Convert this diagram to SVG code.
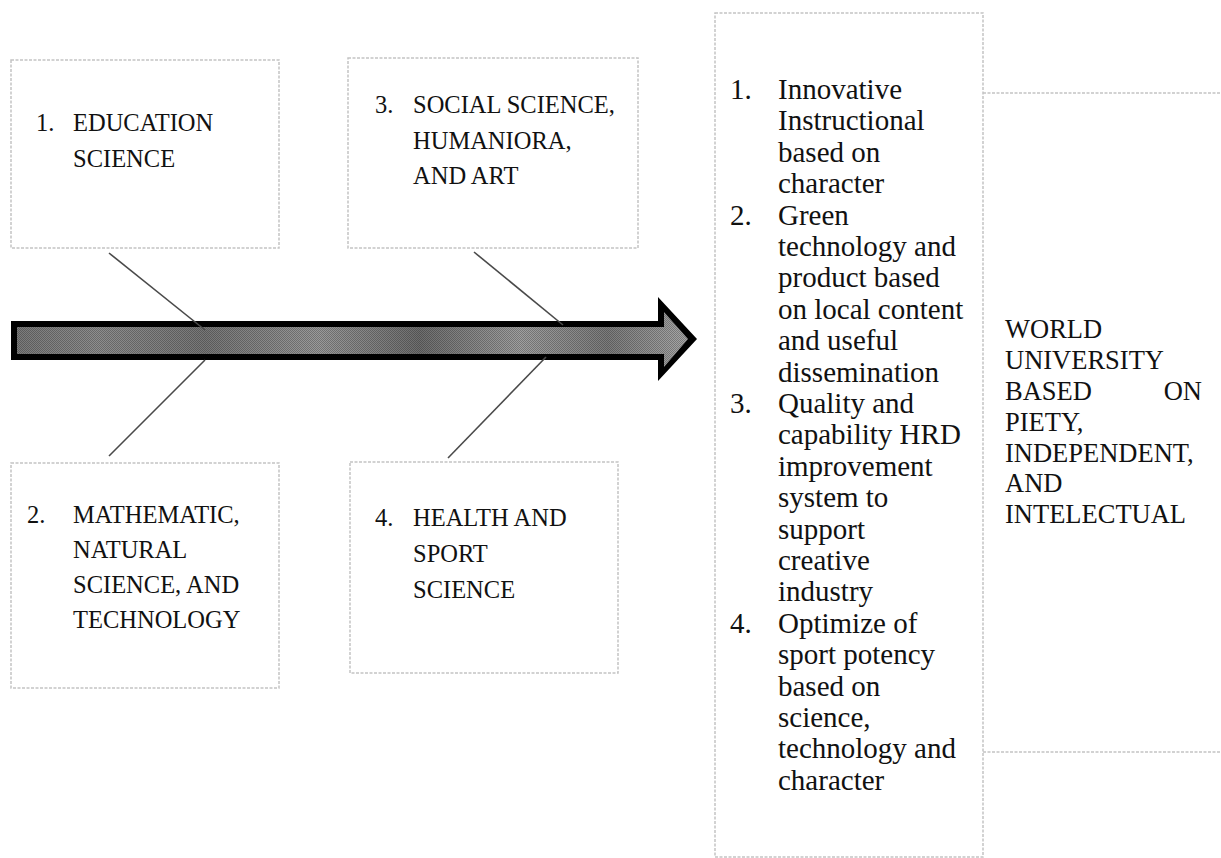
<svg xmlns="http://www.w3.org/2000/svg" width="1221" height="858" viewBox="0 0 1221 858">
  <style>
    .box { fill: #ffffff; stroke: #c4c4c4; stroke-width: 1.5; stroke-dasharray: 3 1.5; }
    .edge { fill: none; stroke: #c4c4c4; stroke-width: 1.5; stroke-dasharray: 3 1.5; }
    .cap { font-family: "Liberation Serif", "Times New Roman", serif; font-size: 24.5px; fill: #111; }
    .item { font-family: "Liberation Serif", "Times New Roman", serif; font-size: 29px; fill: #111; }
    .goal { font-family: "Liberation Serif", "Times New Roman", serif; font-size: 26.5px; fill: #111; }
    .spoke { stroke: #4a4a4a; stroke-width: 1.6; fill: none; }
  </style>
  <defs>
    <linearGradient id="shaftFill" x1="0" y1="0" x2="1" y2="0">
      <stop offset="0" stop-color="#7a7a7a"/>
      <stop offset="0.12" stop-color="#8e8e8e"/>
      <stop offset="0.28" stop-color="#777777"/>
      <stop offset="0.45" stop-color="#9a9a9a"/>
      <stop offset="0.6" stop-color="#6e6e6e"/>
      <stop offset="0.75" stop-color="#a0a0a0"/>
      <stop offset="0.88" stop-color="#7c7c7c"/>
      <stop offset="1" stop-color="#a8a8a8"/>
    </linearGradient>
    <pattern id="dither" width="2" height="2" patternUnits="userSpaceOnUse">
      <rect x="0" y="0" width="1" height="1" fill="#000" fill-opacity="0.25"/>
      <rect x="1" y="1" width="1" height="1" fill="#000" fill-opacity="0.25"/>
    </pattern>
  </defs>

  <rect width="1221" height="858" fill="#ffffff"/>

  <!-- main arrow -->
  <g id="arrow">
    <polygon points="11,321 658,321 658,297 697,339 658,381 658,360 11,360" fill="#000"/>
    <polygon points="17,327 664,327 664,312 688,339 664,367 664,354 17,354" fill="url(#shaftFill)"/>
    <polygon points="17,327 664,327 664,312 688,339 664,367 664,354 17,354" fill="url(#dither)"/>
  </g>

  <!-- spokes joining the field boxes to the arrow -->
  <g id="connectors">
    <line class="spoke" x1="109" y1="253" x2="205" y2="330"/>
    <line class="spoke" x1="205" y1="360" x2="109" y2="456"/>
    <line class="spoke" x1="474" y1="252" x2="563" y2="325"/>
    <line class="spoke" x1="546" y1="357" x2="448" y2="458"/>
  </g>

  <g id="field1">
    <rect class="box" x="11" y="60" width="268" height="188"/>
    <text class="cap" x="36" y="131">1.</text>
    <text class="cap" x="73" y="131">EDUCATION</text>
    <text class="cap" x="73" y="167">SCIENCE</text>
  </g>

  <g id="field3">
    <rect class="box" x="348" y="58" width="290" height="190"/>
    <text class="cap" x="375" y="113">3.</text>
    <text class="cap" x="413" y="113">SOCIAL SCIENCE,</text>
    <text class="cap" x="413" y="149">HUMANIORA,</text>
    <text class="cap" x="413" y="184">AND ART</text>
  </g>

  <g id="field2">
    <rect class="box" x="11" y="463" width="268" height="225"/>
    <text class="cap" x="27" y="523">2.</text>
    <text class="cap" x="73" y="523">MATHEMATIC,</text>
    <text class="cap" x="73" y="558">NATURAL</text>
    <text class="cap" x="73" y="593">SCIENCE, AND</text>
    <text class="cap" x="73" y="628">TECHNOLOGY</text>
  </g>

  <g id="field4">
    <rect class="box" x="350" y="462" width="268" height="211"/>
    <text class="cap" x="375" y="526">4.</text>
    <text class="cap" x="413" y="526">HEALTH AND</text>
    <text class="cap" x="413" y="562">SPORT</text>
    <text class="cap" x="413" y="598">SCIENCE</text>
  </g>

  <g id="programs">
    <rect class="box" x="715" y="13" width="268" height="844"/>
    <text class="item" x="730" y="99">1.</text>
    <text class="item" x="778" y="99">Innovative</text>
    <text class="item" x="778" y="130.4">Instructional</text>
    <text class="item" x="778" y="161.8">based on</text>
    <text class="item" x="778" y="193.2">character</text>
    <text class="item" x="730" y="224.6">2.</text>
    <text class="item" x="778" y="224.6">Green</text>
    <text class="item" x="778" y="256">technology and</text>
    <text class="item" x="778" y="287.4">product based</text>
    <text class="item" x="778" y="318.8">on local content</text>
    <text class="item" x="778" y="350.2">and useful</text>
    <text class="item" x="778" y="381.6">dissemination</text>
    <text class="item" x="730" y="413">3.</text>
    <text class="item" x="778" y="413">Quality and</text>
    <text class="item" x="778" y="444.4">capability HRD</text>
    <text class="item" x="778" y="475.8">improvement</text>
    <text class="item" x="778" y="507.2">system to</text>
    <text class="item" x="778" y="538.6">support</text>
    <text class="item" x="778" y="570">creative</text>
    <text class="item" x="778" y="601.4">industry</text>
    <text class="item" x="730" y="632.8">4.</text>
    <text class="item" x="778" y="632.8">Optimize of</text>
    <text class="item" x="778" y="664.2">sport potency</text>
    <text class="item" x="778" y="695.6">based on</text>
    <text class="item" x="778" y="727">science,</text>
    <text class="item" x="778" y="758.4">technology and</text>
    <text class="item" x="778" y="789.8">character</text>
  </g>

  <g id="vision">
    <path class="edge" d="M983,93 H1221 M983,752 H1221"/>
    <text class="goal" x="1005" y="338">WORLD</text>
    <text class="goal" x="1005" y="369">UNIVERSITY</text>
    <text class="goal" x="1005" y="400">BASED</text>
    <text class="goal" x="1202" y="400" text-anchor="end">ON</text>
    <text class="goal" x="1005" y="431">PIETY,</text>
    <text class="goal" x="1005" y="462">INDEPENDENT,</text>
    <text class="goal" x="1005" y="492">AND</text>
    <text class="goal" x="1005" y="523">INTELECTUAL</text>
  </g>
</svg>
